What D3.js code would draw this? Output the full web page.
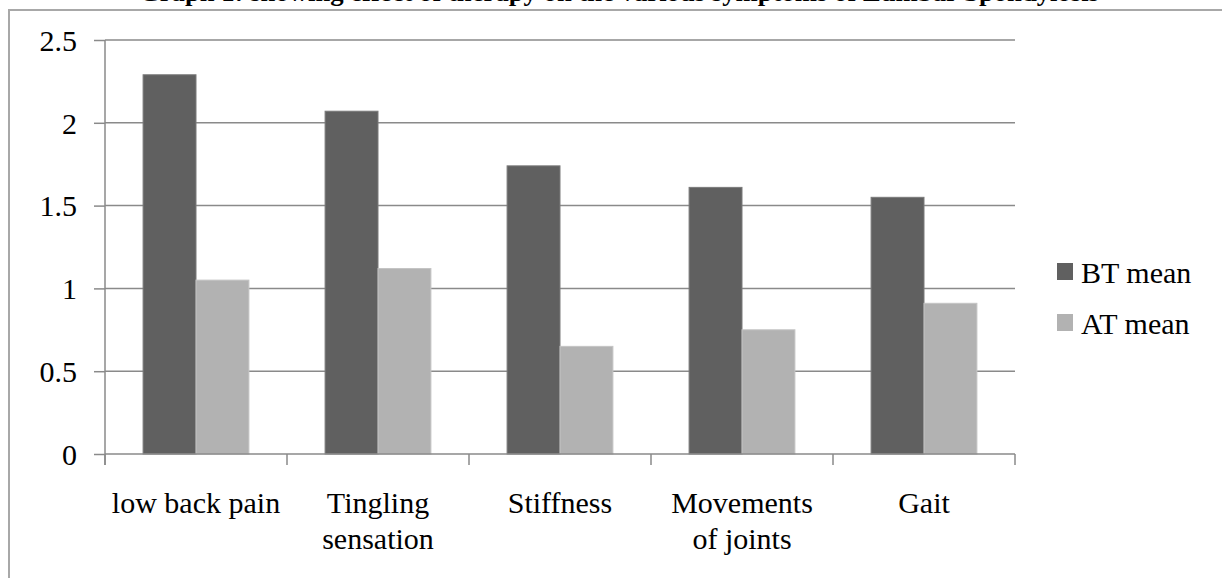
<!DOCTYPE html>
<html><head><meta charset="utf-8">
<script src="https://cdn.jsdelivr.net/npm/d3@7"></script>
<style>
html,body{margin:0;padding:0;background:#fff;overflow:hidden;}
svg{display:block;}
text{font-family:"Liberation Serif","Times New Roman",serif;fill:#000;}
</style></head>
<body>
<svg id="c" width="1222" height="578"></svg>
<script>
const titleText = "Graph 1: showing effect of therapy on the various symptoms of Lumbar Spondylosis";
const categories = ["low back pain", "Tingling sensation", "Stiffness", "Movements of joints", "Gait"];
const categoryLines = [["low back pain"], ["Tingling", "sensation"], ["Stiffness"], ["Movements", "of joints"], ["Gait"]];
const seriesNames = ["BT mean", "AT mean"];
const btMean = [2.29, 2.07, 1.74, 1.61, 1.55];
const atMean = [1.05, 1.12, 0.65, 0.75, 0.91];
const yTicks = [0, 0.5, 1, 1.5, 2, 2.5];
const colors = ["#606060", "#b2b2b2"];
const strokes = ["#7a7a7a", "#c4c4c4"];

const svg = d3.select("#c");
const seriesData = [btMean, atMean];

// title (clipped at top like the reference)
svg.append("text").attr("x", 619).attr("y", 1)
  .attr("text-anchor", "middle").attr("font-weight", "bold")
  .attr("font-size", 26).attr("textLength", 960).attr("lengthAdjust", "spacingAndGlyphs")
  .text(titleText);

// outer chart border
svg.append("rect").attr("x", 9).attr("y", 10).attr("width", 1240).attr("height", 600)
  .attr("fill", "none").attr("stroke", "#a8a8a8").attr("stroke-width", 2);

const pLeft = 105, pRight = 1015, pTop = 40, pBottom = 454;
const y = d3.scaleLinear().domain([0, 2.5]).range([pBottom, pTop]);
const x0 = d3.scaleBand().domain(categories).range([pLeft, pRight]).padding(0);
const x1 = d3.scaleBand().domain(seriesNames).range([0, x0.bandwidth()]).paddingInner(0).paddingOuter(0.72);

// gridlines
svg.append("g").selectAll("line").data(yTicks.filter(d => d > 0)).join("line")
  .attr("x1", pLeft).attr("x2", pRight)
  .attr("y1", d => y(d)).attr("y2", d => y(d))
  .attr("stroke", "#8a8a8a").attr("stroke-width", 1.5);

// y axis
const yAxis = d3.axisLeft(y).tickValues(yTicks).tickSize(11).tickFormat(d => String(d)).tickSizeOuter(0);
const gy = svg.append("g").attr("transform", `translate(${pLeft},0)`).call(yAxis);
gy.select(".domain").remove();
gy.selectAll(".tick line").attr("stroke", "#8a8a8a").attr("stroke-width", 1.5);
gy.selectAll(".tick text").attr("x", -28).attr("font-size", 30)
  .attr("font-family", "Liberation Serif").attr("fill", "#000").attr("dy", "0.34em");
svg.append("line").attr("x1", pLeft).attr("x2", pLeft).attr("y1", pTop).attr("y2", pBottom + 11)
  .attr("stroke", "#8a8a8a").attr("stroke-width", 1.5);

// bars
const groups = svg.append("g").selectAll("g").data(categories).join("g")
  .attr("transform", d => `translate(${x0(d)},0)`);
groups.selectAll("rect").data((d, i) => seriesNames.map((s, j) => ({s, j, v: seriesData[j][i]}))).join("rect")
  .attr("x", d => x1(d.s)).attr("width", x1.bandwidth())
  .attr("y", d => y(d.v)).attr("height", d => y(0) - y(d.v))
  .attr("fill", d => colors[d.j]).attr("stroke", d => strokes[d.j]).attr("stroke-width", 1);

// x axis
svg.append("line").attr("x1", pLeft).attr("x2", pRight).attr("y1", pBottom).attr("y2", pBottom)
  .attr("stroke", "#8a8a8a").attr("stroke-width", 1.5);
const boundaries = categories.map(c => x0(c)).concat([pRight]);
svg.append("g").selectAll("line").data(boundaries).join("line")
  .attr("x1", d => d).attr("x2", d => d).attr("y1", pBottom).attr("y2", pBottom + 11)
  .attr("stroke", "#8a8a8a").attr("stroke-width", 1.5);

// x labels
const xl = svg.append("g").selectAll("text").data(categories).join("text")
  .attr("text-anchor", "middle").attr("font-size", 30)
  .attr("x", d => x0(d) + x0.bandwidth() / 2).attr("y", 513);
xl.each(function(d, i) {
  d3.select(this).selectAll("tspan").data(categoryLines[i]).join("tspan")
    .attr("x", x0(d) + x0.bandwidth() / 2).attr("dy", (t, k) => k === 0 ? 0 : 36).text(t => t);
});

// legend
const lg = svg.append("g").selectAll("g").data(seriesNames).join("g")
  .attr("transform", (d, i) => `translate(1057,${263 + i * 51})`);
lg.append("rect").attr("width", 16).attr("height", 17).attr("fill", (d, i) => colors[i]);
lg.append("text").attr("x", 24).attr("y", 20).attr("font-size", 30).text(d => d);
</script>
</body></html>
